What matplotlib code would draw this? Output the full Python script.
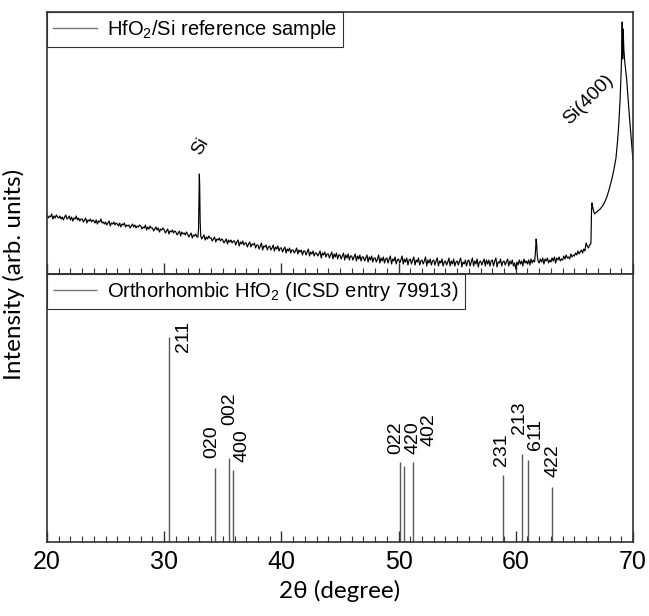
"""XRD pattern of the HfO2/Si reference sample with orthorhombic HfO2 sticks."""

import matplotlib

matplotlib.use("Agg")
import matplotlib.pyplot as plt
import numpy as np
from matplotlib.ticker import MultipleLocator


# measured pattern, background read on a 0.1 deg grid from 20.0 to 66.4 deg
BACKGROUND_START = 20.0
BACKGROUND_STEP = 0.1
BACKGROUND = [
    59, 56, 58, 57, 60, 55, 58, 56, 59, 57,
    56, 58, 55, 57, 54, 57, 59, 55, 56, 58,
    54, 57, 53, 56, 55, 58, 54, 56, 53, 55,
    55, 52, 54, 56, 51, 54, 53, 55, 52, 54,
    53, 51, 54, 50, 53, 52, 55, 51, 52, 50,
    52, 49, 51, 53, 48, 51, 50, 52, 49, 51,
    50, 48, 51, 47, 50, 49, 51, 47, 49, 48,
    49, 46, 48, 50, 47, 49, 46, 48, 47, 49,
    48, 45, 47, 46, 49, 44, 47, 45, 48, 46,
    46, 43, 45, 47, 44, 46, 42, 45, 44, 46,
    44, 41, 43, 45, 40, 43, 42, 44, 41, 43,
    42, 39, 41, 43, 38, 42, 40, 41, 39, 42,
    40, 37, 39, 41, 36, 39, 38, 40, 37, 39,
    36, 38, 35, 37, 39, 34, 37, 35, 38, 36,
    36, 33, 35, 37, 32, 35, 34, 36, 33, 35,
    34, 31, 33, 35, 30, 34, 32, 34, 31, 33,
    33, 29, 32, 34, 28, 32, 30, 33, 29, 31,
    31, 27, 30, 32, 27, 30, 29, 31, 26, 29,
    29, 25, 28, 31, 24, 28, 27, 29, 24, 27,
    28, 24, 26, 29, 23, 27, 25, 28, 23, 26,
    26, 22, 25, 27, 21, 25, 23, 26, 21, 24,
    24, 21, 23, 26, 20, 24, 22, 24, 19, 23,
    23, 19, 22, 25, 18, 22, 20, 23, 18, 21,
    21, 18, 20, 23, 16, 21, 19, 22, 17, 20,
    20, 16, 19, 22, 15, 20, 17, 21, 15, 19,
    19, 15, 18, 21, 14, 19, 16, 20, 14, 18,
    18, 14, 17, 20, 13, 18, 15, 19, 13, 17,
    17, 13, 16, 19, 12, 17, 14, 18, 12, 16,
    16, 12, 15, 19, 11, 16, 13, 17, 11, 15,
    16, 11, 15, 18, 10, 15, 13, 17, 10, 14,
    15, 11, 14, 18, 10, 15, 12, 16, 9, 14,
    15, 10, 14, 17, 9, 14, 12, 16, 9, 13,
    14, 10, 13, 17, 8, 14, 11, 15, 9, 13,
    14, 9, 13, 16, 8, 13, 11, 15, 8, 12,
    13, 9, 12, 16, 8, 13, 10, 15, 8, 12,
    13, 9, 13, 16, 7, 12, 10, 14, 8, 13,
    14, 8, 12, 16, 8, 13, 10, 15, 7, 12,
    13, 9, 12, 15, 8, 14, 10, 14, 8, 13,
    14, 8, 13, 16, 7, 12, 11, 15, 8, 12,
    13, 9, 12, 15, 8, 13, 10, 14, 8, 11,
    5, 12, 9, 14, 10, 13, 8, 15, 11, 13,
    10, 14, 9, 15, 11, 14, 12, 15, 12, 13,
    11, 15, 12, 16, 10, 15, 13, 16, 11, 14,
    12, 16, 13, 17, 11, 16, 14, 17, 13, 15,
    14, 18, 15, 19, 16, 17, 15, 20, 17, 19,
    18, 21, 19, 23, 20, 22, 24, 21, 25, 23,
    31, 28, 26, 29, 30,
]

# sharp features measured on a finer step
PEAK_ANGLES = [
    32.88, 32.93, 32.97, 33.00, 33.03, 33.07, 33.12,
    61.62, 61.68, 61.74, 61.78, 61.84, 61.90,
    66.42, 66.46, 66.50, 66.56, 66.64, 66.72, 66.80, 67.00, 67.20,
    67.40, 67.60, 67.80, 68.00, 68.20, 68.40, 68.55, 68.70, 68.80,
    68.90, 69.00, 69.04, 69.08, 69.12, 69.16, 69.22, 69.30, 69.46,
    69.60, 69.70, 69.85, 70.00,
]
PEAK_COUNTS = [
    37, 45, 80, 100, 88, 52, 38,
    14, 22, 35, 30, 18, 13,
    34, 62, 71, 67, 63, 60, 61, 63, 65,
    68, 72, 78, 86, 95, 106, 116, 135, 152,
    174, 205, 224, 252, 215, 245, 225, 212, 195,
    172, 157, 135, 114,
]
PEAK_CENTERS = [33.0, 61.76]

# orthorhombic HfO2, ICSD entry 79913
STICK_HKL = ["211", "020", "002", "400", "022", "420", "402", "231", "213", "611", "422"]
STICK_ANGLES = [30.41, 34.33, 35.53, 35.87, 50.12, 50.46, 51.23, 58.91, 60.53, 61.04, 63.09]
STICK_HEIGHTS = [100, 36, 41, 35, 39, 37, 39, 33, 43, 40, 27]

# where each hkl label sits (centre angle, bottom of the text)
LABEL_X = [31.69, 34.08, 35.61, 36.64, 49.8, 51.25, 52.6, 58.82, 60.36, 61.72, 63.17]
LABEL_Y = [93, 41, 57, 39, 43, 43, 47, 37, 53, 45, 32]


def pattern():
    angles = BACKGROUND_START + BACKGROUND_STEP * np.arange(len(BACKGROUND))
    counts = np.asarray(BACKGROUND, dtype=float)
    keep = np.ones(len(angles), dtype=bool)
    for centre in PEAK_CENTERS:
        keep &= np.abs(angles - centre) > 0.13
    x = np.concatenate([angles[keep], PEAK_ANGLES])
    y = np.concatenate([counts[keep], PEAK_COUNTS])
    order = np.argsort(x)
    return x[order], y[order]


plt.rcParams["font.family"] = ["Liberation Sans", "DejaVu Sans"]
plt.rcParams["mathtext.fontset"] = "custom"
plt.rcParams["mathtext.rm"] = "Liberation Sans"
plt.rcParams["mathtext.it"] = "Liberation Sans:italic"

figure = plt.figure(figsize=(6.49, 6.16), dpi=100)
left, width = 0.0724, 0.9029
top_axis = figure.add_axes([left, 0.5552, width, 0.9805 - 0.5552])
stick_axis = figure.add_axes([left, 0.1201, width, 0.5552 - 0.1201], sharex=top_axis)

x, y = pattern()
top_axis.plot(x, y, color="black", linewidth=0.85,
              label="HfO$_2$/Si reference sample")
top_axis.set_ylim(0, 262)
top_axis.text(33.1, 128, "Si", rotation=60, fontsize=13.5, ha="center", va="center")
top_axis.text(66.2, 174, "Si(400)", rotation=45, fontsize=14, ha="center", va="center")

stick_axis.vlines(STICK_ANGLES, 0, STICK_HEIGHTS, color="0.35", linewidth=1.0,
                  label="Orthorhombic HfO$_2$ (ICSD entry 79913)")
for hkl, lx, ly in zip(STICK_HKL, LABEL_X, LABEL_Y):
    stick_axis.text(lx, ly, hkl, rotation=90, fontsize=14, ha="center", va="bottom")
stick_axis.set_ylim(0, 131)

stick_axis.set_xlim(20, 70)
stick_axis.xaxis.set_major_locator(MultipleLocator(10))
stick_axis.xaxis.set_minor_locator(MultipleLocator(1))

for axis in (top_axis, stick_axis):
    axis.set_yticks([])
    axis.tick_params(axis="x", which="both", direction="in", top=False, color="0.2")
    axis.tick_params(axis="x", which="major", length=8, width=1.0)
    axis.tick_params(axis="x", which="minor", length=4, width=0.8)
    for spine in axis.spines.values():
        spine.set_color("0.2")
        spine.set_linewidth(1.2)
    legend = axis.legend(loc="upper left", borderaxespad=0, fancybox=False,
                         fontsize=14.5, handlelength=2.2, handletextpad=0.5,
                         borderpad=0.3, framealpha=1)
    legend.get_frame().set_edgecolor("0.2")
    legend.get_frame().set_linewidth(0.8)
    legend.get_lines()[0].set_color("0.45")
    legend.get_lines()[0].set_linewidth(1.0)

top_axis.tick_params(axis="x", labelbottom=False)
stick_axis.tick_params(axis="x", labelsize=18, pad=6)
stick_axis.set_xlabel("2θ (degree)", family=["Lato", "DejaVu Sans"], fontsize=17.5)
figure.text(0.022, 0.5552, "Intensity (arb. units)", rotation=90, ha="center",
            va="center", family=["Lato", "DejaVu Sans"], fontsize=17.5)

figure.savefig("out.png", dpi=100)
plt.close(figure)
